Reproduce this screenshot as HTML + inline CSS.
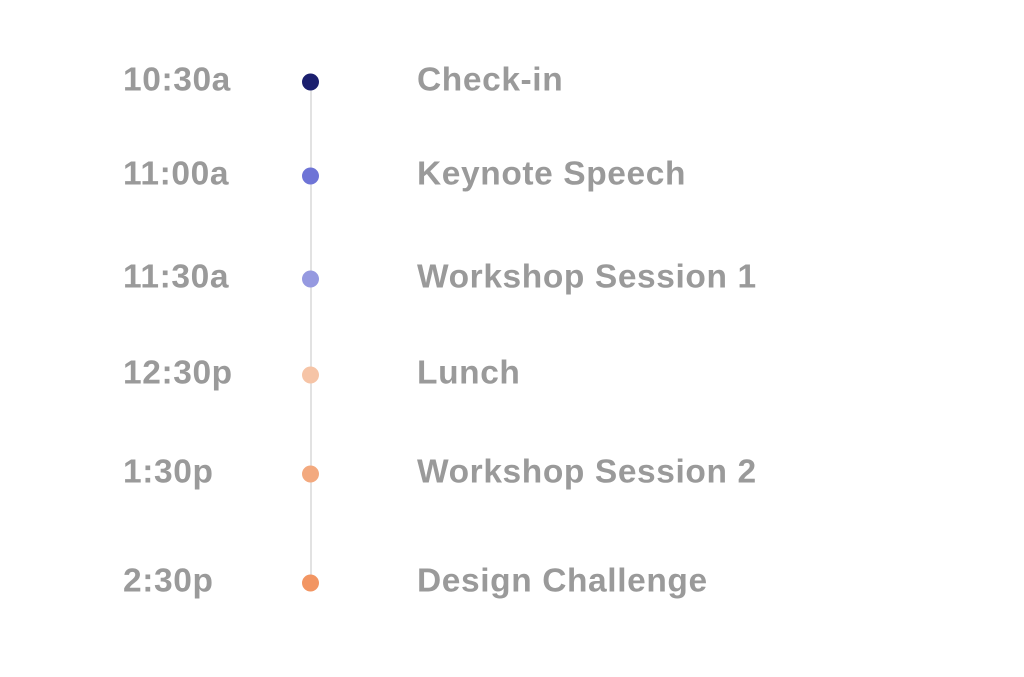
<!DOCTYPE html>
<html><head><meta charset="utf-8"><style>
body{margin:0;width:1024px;height:677px;background:#fff;position:relative;overflow:hidden;font-family:"Liberation Sans",sans-serif;}
.t{position:absolute;color:#9a9a9a;font-weight:bold;font-size:33.5px;line-height:1;transform:translateY(-50%);letter-spacing:0.6px}
.d{position:absolute;width:17px;height:17px;border-radius:50%;left:302px;transform:translateY(-50%)}
.l{position:absolute;left:309.5px;top:83px;width:2px;height:500px;background:#e2e2e2}
</style></head><body>
<div class="l"></div>
<div class="t" style="left:123px;top:80px">10:30a</div><div class="d" style="top:82px;background:#1b1f6e"></div><div class="t" style="left:417px;top:80px">Check-in</div>
<div class="t" style="left:123px;top:174px">11:00a</div><div class="d" style="top:176px;background:#6e74d6"></div><div class="t" style="left:417px;top:174px">Keynote Speech</div>
<div class="t" style="left:123px;top:277px">11:30a</div><div class="d" style="top:279px;background:#9599e0"></div><div class="t" style="left:417px;top:277px">Workshop Session 1</div>
<div class="t" style="left:123px;top:373px">12:30p</div><div class="d" style="top:375px;background:#f6c4a6"></div><div class="t" style="left:417px;top:373px">Lunch</div>
<div class="t" style="left:123px;top:472px">1:30p</div><div class="d" style="top:474px;background:#f3a97e"></div><div class="t" style="left:417px;top:472px">Workshop Session 2</div>
<div class="t" style="left:123px;top:581px">2:30p</div><div class="d" style="top:583px;background:#f29562"></div><div class="t" style="left:417px;top:581px">Design Challenge</div>
</body></html>
